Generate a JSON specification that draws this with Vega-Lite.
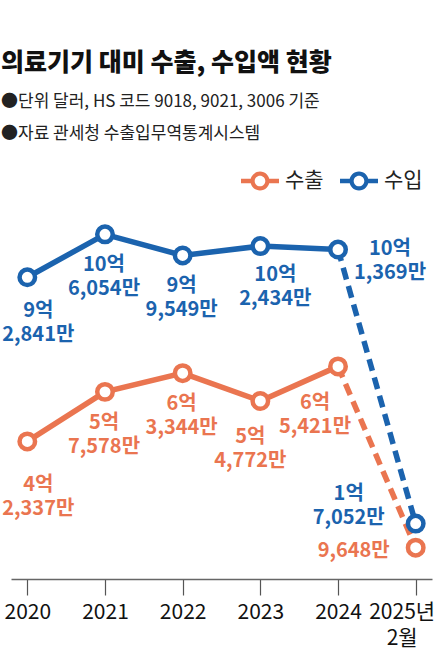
{
  "$schema": "https://vega.github.io/schema/vega-lite/v6.json",
  "autosize": {"type": "none"},
  "padding": {"left": 11, "top": 189, "right": 10, "bottom": 92},
  "width": 421,
  "height": 390,
  "title": {
    "text": "의료기기 대미 수출, 수입액 현황",
    "subtitle": ["●단위 달러, HS 코드 9018, 9021, 3006 기준", "●자료 관세청 수출입무역통계시스템"],
    "anchor": "start",
    "frame": "group",
    "dx": -10,
    "offset": 20,
    "font": "Noto Sans CJK KR",
    "fontSize": 25,
    "fontWeight": 900,
    "color": "#111111",
    "subtitleFont": "Noto Sans CJK KR",
    "subtitleFontSize": 17,
    "subtitleColor": "#222222",
    "subtitleLineHeight": 32,
    "subtitlePadding": 18
  },
  "config": {"view": {"stroke": null}, "font": "Noto Sans CJK KR"},
  "data": {
    "values": [
      {"year": "2020", "series": "수출", "value": 423370000, "label": "4억\n2,337만"},
      {"year": "2021", "series": "수출", "value": 575780000, "label": "5억\n7,578만"},
      {"year": "2022", "series": "수출", "value": 633440000, "label": "6억\n3,344만"},
      {"year": "2023", "series": "수출", "value": 547720000, "label": "5억\n4,772만"},
      {"year": "2024", "series": "수출", "value": 654210000, "label": "6억\n5,421만"},
      {"year": "2025년 2월", "series": "수출", "value": 96480000, "label": "9,648만"},
      {"year": "2020", "series": "수입", "value": 928410000, "label": "9억\n2,841만"},
      {"year": "2021", "series": "수입", "value": 1060540000, "label": "10억\n6,054만"},
      {"year": "2022", "series": "수입", "value": 995490000, "label": "9억\n9,549만"},
      {"year": "2023", "series": "수입", "value": 1024340000, "label": "10억\n2,434만"},
      {"year": "2024", "series": "수입", "value": 1013690000, "label": "10억\n1,369만"},
      {"year": "2025년 2월", "series": "수입", "value": 170520000, "label": "1억\n7,052만"}
    ]
  },
  "encoding": {
    "x": {
      "field": "year",
      "type": "ordinal",
      "sort": ["2020", "2021", "2022", "2023", "2024", "2025년 2월"],
      "scale": {"type": "point", "padding": 0.21},
      "axis": {
        "title": null,
        "domainColor": "#666666",
        "domainWidth": 1.5,
        "tickColor": "#555555",
        "tickWidth": 1.2,
        "tickSize": 16,
        "labelFontSize": 21,
        "labelColor": "#111111",
        "labelPadding": 6,
        "labelAngle": 0,
        "labelLineHeight": 26,
        "labelOverlap": false,
        "labelBound": false,
        "labelExpr": "datum.value == '2025년 2월' ? ['2025년', '2월'] : datum.label",
        "labelOffset": {"condition": {"test": "datum.value == '2025년 2월'", "value": -14}, "value": 0},
        "grid": false
      }
    },
    "y": {
      "field": "value",
      "type": "quantitative",
      "scale": {"domain": [0, 1200000000], "nice": false},
      "axis": null
    }
  },
  "layer": [
    {
      "transform": [{"filter": "datum.year == '2024' || datum.year == '2025년 2월'"}],
      "mark": {"type": "line", "strokeWidth": 5.5, "strokeDash": [12, 7]},
      "encoding": {
        "color": {
          "field": "series",
          "type": "nominal",
          "scale": {"domain": ["수출", "수입"], "range": ["#ea7550", "#1b63ae"]},
          "legend": {
            "orient": "none",
            "legendX": 230,
            "legendY": -27,
            "direction": "horizontal",
            "title": null,
            "symbolType": "M-1,-0.12L-0.45,-0.12L-0.45,0.12L-1,0.12ZM0.45,-0.12L1,-0.12L1,0.12L0.45,0.12ZM0.5,0A0.5,0.5,0,1,1,-0.5,0A0.5,0.5,0,1,1,0.5,0ZM0.28,0A0.28,0.28,0,1,0,-0.28,0A0.28,0.28,0,1,0,0.28,0Z",
            "symbolSize": 1444,
            "symbolStrokeWidth": 0,
            "symbolOpacity": 1,
            "labelFontSize": 21,
            "labelColor": "#222222",
            "labelOffset": 6,
            "columnPadding": 16
          }
        }
      }
    },
    {
      "transform": [{"filter": "datum.year != '2025년 2월'"}],
      "mark": {"type": "line", "strokeWidth": 5.5},
      "encoding": {"color": {"field": "series", "type": "nominal"}}
    },
    {
      "mark": {"type": "point", "shape": "circle", "filled": false, "fill": "white", "fillOpacity": 1, "opacity": 1, "size": 240, "strokeWidth": 4.5},
      "encoding": {"color": {"field": "series", "type": "nominal"}}
    },
    {
      "encoding": {
        "text": {"field": "label"},
        "fill": {
          "field": "series",
          "type": "nominal",
          "scale": {"domain": ["수출", "수입"], "range": ["#ea7550", "#1b63ae"]},
          "legend": null
        }
      },
      "layer": [
        {
          "transform": [{"filter": "datum.year == '2021' || datum.year == '2022'"}],
          "mark": {"type": "text", "baseline": "top", "lineBreak": "\n", "lineHeight": 24, "fontSize": 20, "fontWeight": "bold", "dx": -1, "dy": 21}
        },
        {
          "transform": [{"filter": "datum.year == '2020' && datum.series == '수입'"}],
          "mark": {"type": "text", "baseline": "top", "lineBreak": "\n", "lineHeight": 24, "fontSize": 20, "fontWeight": "bold", "dx": 11, "dy": 24}
        },
        {
          "transform": [{"filter": "datum.year == '2020' && datum.series == '수출'"}],
          "mark": {"type": "text", "baseline": "top", "lineBreak": "\n", "lineHeight": 24, "fontSize": 20, "fontWeight": "bold", "dx": 11, "dy": 34}
        },
        {
          "transform": [{"filter": "datum.year == '2023' && datum.series == '수입'"}],
          "mark": {"type": "text", "baseline": "top", "lineBreak": "\n", "lineHeight": 24, "fontSize": 20, "fontWeight": "bold", "dx": 15, "dy": 19}
        },
        {
          "transform": [{"filter": "datum.year == '2023' && datum.series == '수출'"}],
          "mark": {"type": "text", "baseline": "top", "lineBreak": "\n", "lineHeight": 24, "fontSize": 20, "fontWeight": "bold", "dx": -10, "dy": 26}
        },
        {
          "transform": [{"filter": "datum.year == '2024' && datum.series == '수출'"}],
          "mark": {"type": "text", "baseline": "top", "lineBreak": "\n", "lineHeight": 24, "fontSize": 20, "fontWeight": "bold", "dx": -23, "dy": 27}
        },
        {
          "transform": [{"filter": "datum.year == '2024' && datum.series == '수입'"}],
          "mark": {"type": "text", "baseline": "top", "lineBreak": "\n", "lineHeight": 24, "fontSize": 20, "fontWeight": "bold", "dx": 52, "dy": -11}
        },
        {
          "transform": [{"filter": "datum.year == '2025년 2월' && datum.series == '수입'"}],
          "mark": {"type": "text", "baseline": "top", "lineBreak": "\n", "lineHeight": 24, "fontSize": 20, "fontWeight": "bold", "dx": -67, "dy": -40}
        },
        {
          "transform": [{"filter": "datum.year == '2025년 2월' && datum.series == '수출'"}],
          "mark": {"type": "text", "baseline": "top", "lineBreak": "\n", "lineHeight": 24, "fontSize": 20, "fontWeight": "bold", "dx": -62, "dy": -7}
        }
      ]
    }
  ]
}
